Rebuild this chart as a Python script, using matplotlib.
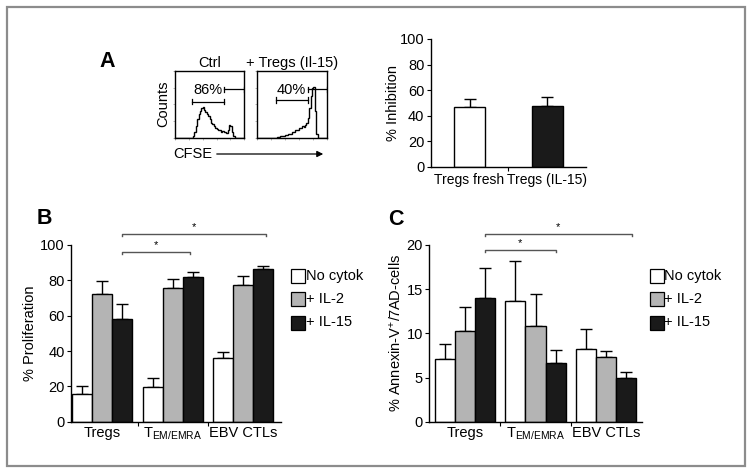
import numpy as np
import matplotlib
matplotlib.use('Agg')
import matplotlib.pyplot as plt
from matplotlib.patches import Rectangle

plt.rcParams['font.family'] = ['Liberation Sans', 'DejaVu Sans']
plt.rcParams['mathtext.fontset'] = 'custom'
plt.rcParams['mathtext.rm'] = 'Liberation Sans'
plt.rcParams['mathtext.it'] = 'Liberation Sans:italic'
plt.rcParams['axes.linewidth'] = 1.0

# ---- data ----
# panel A: CFSE histograms (binned counts, arbitrary units 0-100)
cfse_bins = np.arange(0, 1.0001, 0.02)
ctrl_counts = [0, 0, 0, 0, 0, 0, 0, 0, 0, 0, 0, 0, 0, 2, 8, 18, 28, 36, 40, 44,
               46, 42, 38, 35, 33, 28, 22, 20, 18, 14, 13, 11, 12, 9, 10, 8, 9, 7,
               12, 19, 18, 8, 2, 0, 0, 0, 0, 0, 0, 0]
tregs_counts = [0, 0, 0, 0, 0, 0, 0, 0, 0, 0, 0, 0, 0, 0, 1, 1, 2, 2, 3, 3,
                4, 4, 5, 6, 6, 8, 9, 11, 12, 11, 15, 14, 17, 16, 19, 22, 30, 45,
                62, 74, 76, 40, 5, 0, 0, 0, 0, 0, 0, 0]
hist_titles = ['Ctrl', '+ Tregs (Il-15)']
hist_pct = ['86%', '40%']

# panel A: % inhibition
inhib_labels = ['Tregs fresh', 'Tregs (IL-15)']
inhib_vals = [46.5, 47.5]
inhib_err = [6.5, 7.0]

# panels B and C
groups = ['Tregs', r'T$_{\rm EM/EMRA}$', 'EBV CTLs']
treatments = ['No cytok', '+ IL-2', '+ IL-15']
colors = ['white', '#b4b4b4', '#1a1a1a']

prolif = [[15.5, 19.5, 36.0],   # No cytok
          [72.5, 75.5, 77.5],   # + IL-2
          [58.0, 82.0, 86.5]]   # + IL-15
prolif_err = [[4.5, 5.0, 3.5],
              [7.0, 5.3, 5.0],
              [8.5, 3.0, 1.8]]

annexin = [[7.15, 13.7, 8.25],
           [10.25, 10.85, 7.3],
           [13.95, 6.6, 5.0]]
annexin_err = [[1.6, 4.5, 2.2],
               [2.75, 3.6, 0.75],
               [3.4, 1.55, 0.65]]

W, H = 751, 473
fig = plt.figure(figsize=(W / 100, H / 100), dpi=100)


def px_axes(l, t, r, b):
    return fig.add_axes([l / W, 1 - b / H, (r - l) / W, (b - t) / H])


def fx(x):
    return x / W


def fy(y):
    return 1 - y / H


# outer frame
fig.patches.append(Rectangle((fx(7), fy(466)), fx(738), (466 - 7) / H,
                             transform=fig.transFigure, fill=False,
                             edgecolor='#8c8c8c', linewidth=1.6))

# panel letters
for letter, (x, y) in zip(['A', 'B', 'C'], [(99, 67), (37, 224), (388, 225)]):
    fig.text(fx(x), fy(y), letter, fontsize=15.5, fontweight='bold',
             ha='left', va='baseline')

# ---- A: histograms ----
hist_boxes = [(175, 71, 244.3, 137.7), (257.3, 71, 327.3, 137.7)]
gates = [[(0.25, 0.71, 54), (0.70, 0.99, 72.5)],
         [(0.26, 0.72, 56.5), (0.72, 1.0, 72.5)]]
for box, counts, title, pct, gate in zip(hist_boxes, [ctrl_counts, tregs_counts],
                                         hist_titles, hist_pct, gates):
    ax = px_axes(*box)
    ax.stairs(counts, cfse_bins, color='black', linewidth=1.0)
    ax.set_xlim(0, 1)
    ax.set_ylim(0, 100)
    ax.set_xticks(np.linspace(0, 1, 6))
    ax.set_yticks(np.linspace(0, 100, 5))
    ax.tick_params(length=1.5, width=0.6, color='#aaaaaa', labelleft=False,
                   labelbottom=False)
    for x1, x2, yg in gate:
        ax.plot([x1, x2], [yg, yg], color='black', linewidth=0.9)
        ax.plot([x1, x1], [yg - 4, yg + 4], color='black', linewidth=0.9)
        ax.plot([x2, x2], [yg - 4, yg + 4], color='black', linewidth=0.9)
    ax.text(0.48, 71, pct, fontsize=10.5, ha='center', va='center')
    ax.set_title(title, fontsize=10.5, pad=3)

fig.text(fx(163), fy(104), 'Counts', rotation=90, fontsize=10.5,
         ha='center', va='center')
fig.text(fx(173), fy(154), 'CFSE', fontsize=10.5, ha='left', va='center')
fig.patches.append(matplotlib.patches.FancyArrowPatch(
    (fx(214), fy(154)), (fx(326), fy(154)), transform=fig.transFigure,
    arrowstyle='-|>', mutation_scale=9, color='black', linewidth=0.9))

# ---- A: % inhibition ----
ax = px_axes(430.7, 39, 586, 167)
xi = np.arange(len(inhib_labels))
ax.bar(xi, inhib_vals, width=0.4, color=['white', '#1a1a1a'],
       edgecolor='black', linewidth=1.0, zorder=2)
ax.errorbar(xi, inhib_vals, yerr=[[0, 0], inhib_err], fmt='none',
            ecolor='black', elinewidth=1.0, capsize=4, capthick=1.0, zorder=1)
ax.set_xlim(-0.5, 1.5)
ax.set_ylim(0, 100)
ax.set_yticks(range(0, 101, 20))
ax.set_xticks([0.5])
ax.set_xticklabels([''])
ax.set_xticks(xi, minor=True)
ax.set_xticklabels(inhib_labels, minor=True)
ax.tick_params(axis='x', which='minor', length=0, pad=4, labelsize=10)
ax.tick_params(axis='x', which='major', length=3)
ax.tick_params(axis='y', length=3, pad=1.5, labelsize=10.5)
ax.set_ylabel('% Inhibition', fontsize=10.5, labelpad=0)
for s in ['top', 'right']:
    ax.spines[s].set_visible(False)


def grouped(box, data, err, ylim, yticks, xlim, ylabel, brackets, legend_x):
    ax = px_axes(*box)
    xg = np.arange(len(groups))
    w = 0.285
    for i in range(len(treatments)):
        ax.bar(xg + (i - 1) * w, data[i], width=w, color=colors[i],
               edgecolor='black', linewidth=1.0, zorder=2)
        ax.errorbar(xg + (i - 1) * w, data[i],
                    yerr=[np.zeros(len(groups)), err[i]], fmt='none',
                    ecolor='black', elinewidth=1.0, capsize=4, capthick=1.0,
                    zorder=1)
    ax.set_xlim(*xlim)
    ax.set_ylim(*ylim)
    ax.set_yticks(yticks)
    ax.set_xticks([0.5, 1.5])
    ax.set_xticklabels(['', ''])
    ax.set_xticks(xg, minor=True)
    ax.set_xticklabels(groups, minor=True)
    ax.tick_params(axis='x', which='minor', length=0, pad=3, labelsize=10.5)
    ax.tick_params(axis='x', which='major', length=3)
    ax.tick_params(axis='y', length=3, pad=1.5, labelsize=10.5)
    ax.set_ylabel(ylabel, fontsize=10.5, labelpad=2)
    for s in ['top', 'right']:
        ax.spines[s].set_visible(False)
    d = ylim[1] * 0.012
    for x1, x2, yb in brackets:
        ax.plot([x1, x1, x2, x2], [yb - d, yb, yb, yb - d], color='#555555',
                linewidth=1.0, clip_on=False)
        ax.text((x1 + x2) / 2, yb + d * 0.8, '*', fontsize=8, ha='center',
                va='bottom', clip_on=False)
    for i, (lab, col) in enumerate(zip(treatments, colors)):
        yc = 275.5 + i * 23.5
        fig.patches.append(Rectangle((fx(legend_x), fy(yc + 7)), 14 / W, 14 / H,
                                     transform=fig.transFigure, facecolor=col,
                                     edgecolor='black', linewidth=0.9))
        fig.text(fx(legend_x + 15), fy(yc), lab, fontsize=10.5, ha='left',
                 va='center')
    return ax


grouped((71, 245, 280.7, 421.7), prolif, prolif_err, (0, 100),
        range(0, 101, 20), (-0.444, 2.53), '% Proliferation',
        [(0.275, 2.32, 106.2), (0.275, 1.25, 96.2)], 291)
grouped((429.3, 245, 641.7, 421.7), annexin, annexin_err, (0, 20),
        range(0, 21, 5), (-0.51, 2.51), '% Annexin-V$^{+}$/7AD-cells',
        [(0.28, 2.37, 21.25), (0.28, 1.29, 19.43)], 649.5)

fig.savefig('out.png', dpi=100)
